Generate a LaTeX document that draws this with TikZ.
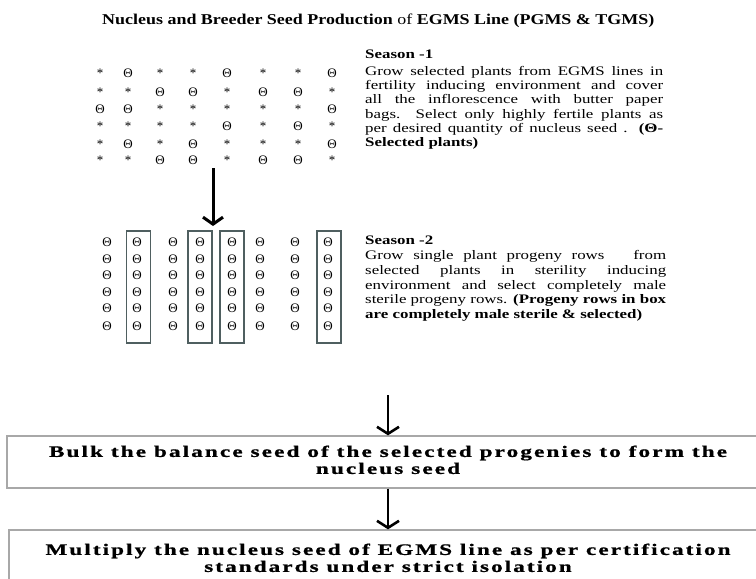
\documentclass[tikz,border=0pt]{standalone}
\usepackage{fontspec}
\usepackage{graphicx}
\setmainfont{Liberation Serif}
\newfontfamily\bodyfont{Liberation Serif}[FakeStretch=1.3]
\newfontfamily\widefont{Liberation Serif}[LetterSpace=9,FakeBold=0.8]
\usetikzlibrary{arrows.meta}
\definecolor{boxcol}{HTML}{4F5F60}
\definecolor{framecol}{HTML}{A8A8A8}
\begin{document}
\begin{tikzpicture}[x=1pt,y=-1pt,
  sym/.style={inner sep=0pt, font=\fontsize{13}{13}\selectfont},
  txt/.style={anchor=base west, inner sep=0pt, font=\bodyfont\fontsize{13}{14.3}\selectfont},
  colbox/.style={draw=boxcol, line width=1.2pt, minimum width=24pt, minimum height=112pt, inner sep=0pt},
  stepbox/.style={draw=framecol, line width=1.3pt, inner sep=0pt, fill=white},
  bigarrow/.style={line width=3pt, -{Straight Barb[length=7pt,width=20pt]}},
  smallarrow/.style={line width=2.6pt, -{Straight Barb[length=7pt,width=22pt]}},
]
\useasboundingbox (0,0) rectangle (756,579);
\fill[white] (0,0) rectangle (756,579);
\clip (0,0) rectangle (756,579);

% title
\node[anchor=base west, inner sep=0pt] (title) at (102,24.5)
  {\resizebox{552pt}{\height}{\fontsize{15}{18}\selectfont\bfseries Nucleus and Breeder Seed Production {\mdseries of} EGMS Line (PGMS \& TGMS)}};

% grid 1 (Season 1)
\foreach \row [count=\r] in {{0,1,0,0,1,0,0,1},{0,0,1,1,0,1,1,0},{1,1,0,0,0,0,0,1},{0,0,0,0,1,0,1,0},{0,1,0,1,0,0,0,1},{0,0,1,1,0,1,1,0}}{
  \foreach \v [count=\c] in \row {
    \pgfmathsetmacro\xx{{100,128,160,193,227,263,298,332}[\c-1]}
    \pgfmathsetmacro\yy{{73,92,109,126,144,160}[\r-1]}
    \node[sym] (g1-\r-\c) at (\xx,\yy) {\ifnum\v=1 Θ\else *\fi};
  }
}

% grid 2 (Season 2)
\foreach \yy [count=\r] in {242,259,275,292,308,326}{
  \foreach \xx [count=\c] in {107,137,173,200,232,260,295,328}{
    \node[sym] (g2-\r-\c) at (\xx,\yy) {Θ};
  }
}
\node[colbox] (sel1) at (138.5,287) {};
\node[colbox] (sel2) at (200,287) {};
\node[colbox] (sel3) at (232,287) {};
\node[colbox] (sel4) at (329,287) {};

% season 1 text
\node[txt] (s1h) at (365,58.5) {\bfseries Season -1};
\node[txt] (s1a) at (365,75.5) {\makebox[298pt][s]{Grow selected plants from EGMS lines in}};
\node[txt] (s1b) at (365,89.7) {\makebox[298pt][s]{fertility inducing environment and cover}};
\node[txt] (s1c) at (365,103.9) {\makebox[298pt][s]{all the inflorescence with butter paper}};
\node[txt] (s1d) at (365,118.1) {\makebox[298pt][s]{bags.\ \ Select only highly fertile plants as}};
\node[txt] (s1e) at (365,132.3) {\makebox[298pt][s]{per desired quantity of nucleus seed . \textbf{(Θ-}}};
\node[txt] (s1f) at (365,146.5) {\bfseries Selected plants)};

% season 2 text
\node[txt] (s2h) at (365,244.5) {\bfseries Season -2};
\node[txt] (s2a) at (365,259.5) {\makebox[301pt][s]{Grow single plant progeny rows\ \ \ from}};
\node[txt] (s2b) at (365,274.3) {\makebox[301pt][s]{selected plants in sterility inducing}};
\node[txt] (s2c) at (365,289.1) {\makebox[301pt][s]{environment and select completely male}};
\node[txt] (s2d) at (365,303.9) {\makebox[301pt][s]{sterile progeny rows. \textbf{(Progeny rows in box}}};
\node[txt] (s2e) at (365,318.7) {\bfseries are completely male sterile \& selected)};

% arrow from season 1 to season 2
\coordinate (a1s) at (213,168);
\coordinate (a1e) at (213,226);
\draw[bigarrow] (a1s) -- (a1e);

% bottom boxes
\node[stepbox, minimum width=762pt, minimum height=52pt] (box1) at (388,462)
  {\resizebox{678pt}{\height}{\widefont\bfseries\fontsize{16}{17}\selectfont\begin{tabular}{@{}c@{}}Bulk the balance seed of the selected progenies to form the\\ nucleus seed\end{tabular}}};
\node[stepbox, minimum width=758pt, minimum height=60pt] (box2) at (388,560)
  {\resizebox{685pt}{\height}{\widefont\bfseries\fontsize{16}{17}\selectfont\begin{tabular}{@{}c@{}}Multiply the nucleus seed of EGMS line as per certification\\ standards under strict isolation\end{tabular}}};

\coordinate (a2s) at (388,395);
\draw[smallarrow] (a2s) -- (box1.north);
\draw[smallarrow] (box1.south) -- (box2.north);
\end{tikzpicture}
\end{document}
